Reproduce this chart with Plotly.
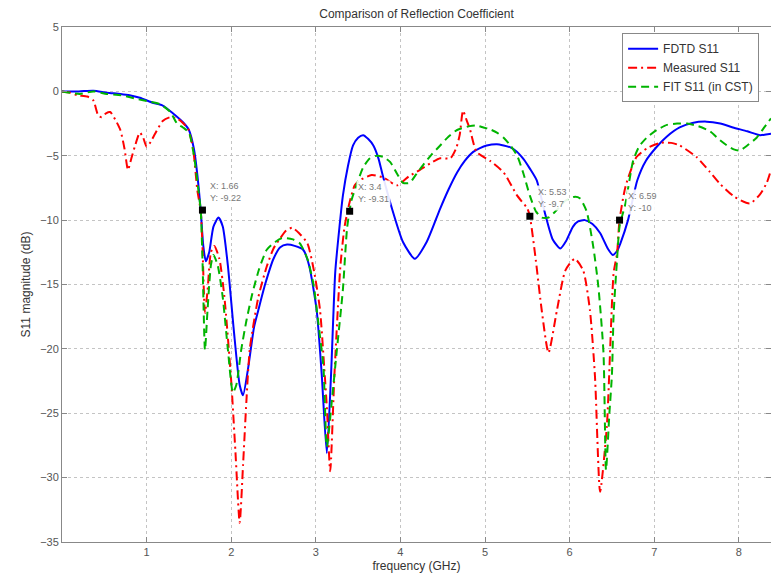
import plotly.graph_objects as go

# ---- data ----
fdtd_x = [0.0, 0.2, 0.37, 0.53, 0.69, 0.8, 0.92, 1.08, 1.19, 1.31, 1.43, 1.5, 1.56, 1.6, 1.64, 1.67, 1.70,
          1.74, 1.79, 1.85, 1.9, 1.96, 2.03, 2.1, 2.14, 2.2, 2.27, 2.32, 2.4, 2.5, 2.58, 2.66, 2.75, 2.85,
          2.92, 3.01, 3.07, 3.13, 3.18, 3.23, 3.28, 3.32, 3.38, 3.44, 3.5, 3.56, 3.62, 3.68, 3.74, 3.79,
          3.9, 4.03, 4.17, 4.31, 4.47, 4.57, 4.67, 4.76, 4.86, 4.94, 5.02, 5.14, 5.22, 5.3, 5.38, 5.46,
          5.53, 5.61, 5.71, 5.8, 5.89, 5.96, 6.04, 6.1, 6.18, 6.27, 6.36, 6.45, 6.51, 6.56, 6.6, 6.69,
          6.8, 6.9, 7.03, 7.15, 7.3, 7.45, 7.62, 7.78, 7.93, 8.1, 8.25, 8.32, 8.38]
fdtd_y = [0.0, 0.0, 0.05, -0.1, -0.2, -0.3, -0.5, -0.9, -1.1, -1.7, -2.4, -3.0, -4.5, -6.5, -9.3, -12.0, -13.2,
          -12.5, -10.5, -9.8, -10.5, -13.5, -18.5, -22.8, -23.6, -21.5, -18.3, -17.0, -15.0, -13.0, -12.1,
          -11.9, -12.0, -12.3, -13.5, -17.0, -22.0, -28.1, -22.0, -14.0, -10.5, -8.1, -5.8, -4.2, -3.6,
          -3.4, -3.7, -4.2, -5.2, -6.5, -9.1, -11.7, -13.0, -11.7, -9.1, -7.6, -6.3, -5.4, -4.7, -4.4,
          -4.2, -4.1, -4.2, -4.35, -4.7, -5.3, -6.0, -6.9, -9.5, -11.5, -12.2, -11.6, -10.5, -10.1, -10.0,
          -10.3, -11.0, -12.2, -12.7, -12.4, -11.8, -10.0, -6.9, -5.4, -4.3, -3.5, -2.8, -2.45, -2.35,
          -2.5, -2.8, -3.1, -3.4, -3.35, -3.3]

meas_x = [0.0, 0.1, 0.18, 0.3, 0.37, 0.43, 0.47, 0.52, 0.57, 0.63, 0.69, 0.74, 0.78, 0.82, 0.86, 0.92, 0.96,
          1.0, 1.05, 1.1, 1.19, 1.28, 1.36, 1.42, 1.49, 1.55, 1.6, 1.64, 1.66, 1.69, 1.72, 1.76, 1.8, 1.86,
          1.92, 2.0, 2.05, 2.1, 2.14, 2.18, 2.22, 2.32, 2.42, 2.5, 2.58, 2.65, 2.72, 2.8, 2.9, 2.98, 3.05,
          3.1, 3.13, 3.17, 3.22, 3.29, 3.34, 3.4, 3.46, 3.52, 3.66, 3.8, 3.96, 4.1, 4.23, 4.35, 4.47, 4.59,
          4.66, 4.70, 4.74, 4.78, 4.82, 4.9, 5.06, 5.22, 5.38, 5.5, 5.53, 5.6, 5.67, 5.75, 5.85, 5.95, 6.06,
          6.16, 6.24, 6.3, 6.36, 6.44, 6.52, 6.56, 6.59, 6.66, 6.79, 6.92, 7.07, 7.2, 7.3, 7.5, 7.65, 7.78,
          7.95, 8.13, 8.25, 8.33, 8.38]
meas_y = [0.0, -0.1, -0.3, -0.4, -0.7, -1.9, -2.0, -1.7, -1.6, -2.2, -3.0, -4.5, -6.1, -5.2, -4.3, -3.2, -3.6,
          -4.3, -3.9, -3.3, -2.3, -2.0, -2.1, -2.4, -2.9, -4.5, -7.7, -9.3, -12.0, -17.2, -15.5, -12.5, -12.0,
          -13.0, -16.0, -22.5, -28.0, -33.5, -29.0, -24.0, -20.0, -16.0, -13.6, -12.2, -11.4, -10.8, -10.6,
          -11.0, -11.8, -14.0, -17.0, -21.5, -24.5, -29.5, -22.0, -13.6, -10.5, -8.6, -7.3, -6.9, -6.5, -6.7,
          -7.3, -6.6, -6.1, -5.6, -5.2, -5.2, -4.4, -3.4, -1.5, -2.2, -2.9, -4.7, -5.4, -6.3, -8.1, -9.1,
          -9.7, -13.1, -17.0, -20.3, -17.0, -13.9, -13.0, -13.9, -17.0, -22.2, -31.1, -26.0, -14.1, -12.6,
          -10.0, -7.4, -5.1, -4.4, -4.0, -4.0, -4.2, -5.1, -6.2, -7.2, -8.2, -8.7, -8.0, -7.1, -6.1]

fit_x = [0.0, 0.21, 0.37, 0.53, 0.7, 0.89, 1.0, 1.16, 1.28, 1.36, 1.43, 1.5, 1.56, 1.6, 1.64, 1.66, 1.69, 1.72,
         1.76, 1.79, 1.84, 1.9, 1.96, 2.02, 2.06, 2.12, 2.18, 2.25, 2.33, 2.42, 2.52, 2.6, 2.66, 2.73, 2.81,
         2.9, 2.97, 3.03, 3.09, 3.13, 3.19, 3.25, 3.32, 3.37, 3.42, 3.48, 3.56, 3.64, 3.72, 3.8, 3.88, 3.96,
         4.03, 4.11, 4.19, 4.27, 4.37, 4.47, 4.57, 4.67, 4.82, 4.9, 4.98, 5.06, 5.14, 5.22, 5.3, 5.38, 5.45,
         5.53, 5.6, 5.67, 5.75, 5.85, 5.95, 6.05, 6.12, 6.2, 6.28, 6.34, 6.4, 6.43, 6.47, 6.5, 6.52, 6.56,
         6.59, 6.66, 6.75, 6.82, 6.91, 7.03, 7.15, 7.27, 7.39, 7.52, 7.66, 7.76, 7.86, 7.94, 8.01, 8.1, 8.21,
         8.3, 8.38]
fit_y = [0.0, -0.2, 0.0, -0.2, -0.3, -0.6, -0.75, -1.0, -1.6, -2.5, -2.8, -3.2, -5.0, -7.0, -9.3, -13.0, -20.1,
         -17.0, -13.5, -12.7, -13.5, -16.0, -20.0, -23.4, -22.8, -20.0, -17.8, -15.7, -13.8, -12.3, -11.7,
         -11.4, -11.4, -11.5, -11.8, -13.0, -14.9, -18.0, -21.4, -27.6, -24.0, -20.0, -15.4, -10.6, -8.5,
         -7.3, -5.9, -5.2, -5.0, -5.1, -5.5, -6.4, -7.1, -7.1, -6.4, -5.7, -4.9, -4.2, -3.5, -3.0, -2.7,
         -2.65, -2.8, -2.95, -3.2, -3.6, -4.2, -5.0, -6.3, -8.1, -9.3, -9.8, -9.8, -9.2, -8.5, -8.2, -8.3,
         -9.3, -12.1, -15.2, -20.3, -29.4, -25.0, -22.0, -17.3, -13.1, -10.5, -8.7, -5.4, -4.3, -3.6, -3.0,
         -2.6, -2.5, -2.5, -2.7, -3.1, -3.7, -4.2, -4.5, -4.6, -4.2, -3.6, -2.8, -2.1]

tip_x = [1.66, 3.4, 5.53, 6.59]
tip_y = [-9.22, -9.31, -9.7, -10.0]
tip_labels = ["X: 1.66<br>Y: -9.22", "X: 3.4<br>Y: -9.31", "X: 5.53<br>Y: -9.7", "X: 6.59<br>Y: -10"]

x_ticks = [1, 2, 3, 4, 5, 6, 7, 8]
y_ticks = [5, 0, -5, -10, -15, -20, -25, -30, -35]

FONT = "Liberation Sans, Arial, sans-serif"

fig = go.Figure()
fig.add_trace(go.Scatter(x=fdtd_x, y=fdtd_y, mode="lines", name="FDTD S11",
                         line=dict(color="#0000FF", width=2, shape="spline", smoothing=0.6)))
fig.add_trace(go.Scatter(x=meas_x, y=meas_y, mode="lines", name="Measured S11",
                         line=dict(color="#FF0000", width=2, dash="9px,4px,2px,4px", shape="spline", smoothing=0.6)))
fig.add_trace(go.Scatter(x=fit_x, y=fit_y, mode="lines", name="FIT S11 (in CST)",
                         line=dict(color="#00B400", width=2, dash="8px,5px", shape="spline", smoothing=0.6)))
fig.add_trace(go.Scatter(x=tip_x, y=tip_y, mode="markers", showlegend=False,
                         marker=dict(symbol="square", size=7, color="black")))

for xv, yv, t in zip(tip_x, tip_y, tip_labels):
    fig.add_annotation(x=xv, y=yv, text=t, showarrow=False, xanchor="left", yanchor="bottom",
                       xshift=6, yshift=5, align="left", bgcolor="rgba(255,255,255,0.9)",
                       borderpad=1, font=dict(family=FONT, size=9, color="#777"))

fig.update_layout(
    width=771, height=581,
    margin=dict(l=62, r=0, t=27, b=39),
    paper_bgcolor="white", plot_bgcolor="white",
    font=dict(family=FONT, size=11, color="#444"),
    title=dict(text="Comparison of Reflection Coefficient", x=0.5, xref="paper", xanchor="center",
               y=1 - 14 / 581, yref="container", yanchor="middle",
               font=dict(family=FONT, size=12, color="#333")),
    legend=dict(x=0.79, y=0.988, xanchor="left", yanchor="top", bgcolor="white",
                bordercolor="#888", borderwidth=1, font=dict(family=FONT, size=12, color="#333"),
                tracegroupgap=0, entrywidth=120, entrywidthmode="pixels"),
    showlegend=True,
)
fig.update_xaxes(range=[0, 8.38], tickvals=x_ticks, showgrid=True, gridcolor="#c4c4c4", griddash="dot",
                 gridwidth=1, zeroline=False, showline=True, linecolor="#888", mirror="ticks",
                 ticks="inside", ticklen=5, tickcolor="#888", tickfont=dict(size=11, color="#555"),
                 title=dict(text="frequency (GHz)", standoff=4, font=dict(size=12, color="#333")),
                 automargin=False)
fig.update_yaxes(range=[-35, 5], tickvals=y_ticks, showgrid=True, gridcolor="#c4c4c4", griddash="dot",
                 gridwidth=1, zeroline=False, showline=True, linecolor="#888", mirror="ticks",
                 ticks="inside", ticklen=5, tickcolor="#888", tickfont=dict(size=11, color="#555"),
                 title=dict(text="S11 magnitude (dB)", standoff=6, font=dict(size=12, color="#333")),
                 automargin=False)

fig.write_html("out.html")
